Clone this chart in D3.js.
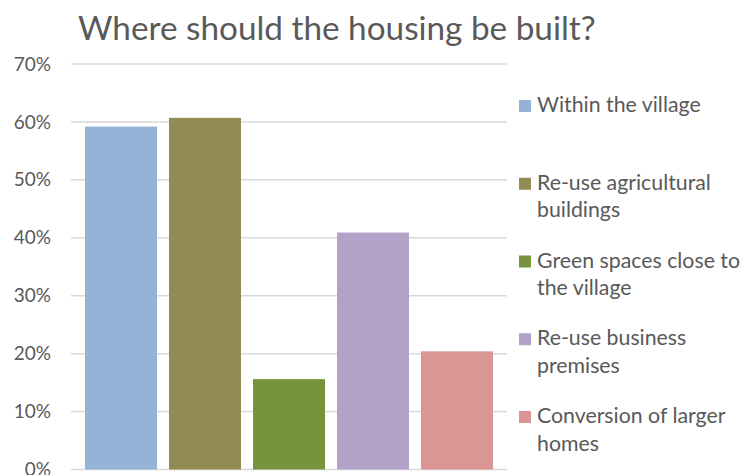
<!DOCTYPE html>
<html><head><meta charset="utf-8">
<script src="https://cdn.jsdelivr.net/npm/d3@7"></script>
<style>
html,body{margin:0;padding:0;background:#fff;overflow:hidden}
text{font-family:Lato,"Open Sans",sans-serif;fill:#595959}
</style></head>
<body><svg id="c" width="743" height="475"></svg>
<script>
const title = "Where should the housing be built?";
const categories = ["Within the village","Re-use agricultural buildings","Green spaces close to the village","Re-use business premises","Conversion of larger homes"];
const legendLines = [["Within the village"],["Re-use agricultural","buildings"],["Green spaces close to","the village"],["Re-use business","premises"],["Conversion of larger","homes"]];
const values = [0.592, 0.607, 0.156, 0.409, 0.204];
const colors = ["#95b3d7","#948a54","#77933c","#b3a2c7","#d99694"];
const yTicks = [0,0.1,0.2,0.3,0.4,0.5,0.6,0.7];

const svg = d3.select("#c");
const x = d3.scaleBand().domain(categories).range([71,507]).paddingInner(0.143).paddingOuter(0.167);
const y = d3.scaleLinear().domain([0,0.7]).range([469.5,64]);

svg.append("text").attr("x",78).attr("y",40).attr("font-size",33.3).attr("font-weight",400).attr("fill","#5a5a5a").text(title);

const g = svg.append("g");
g.selectAll("line.grid").data(yTicks).join("line")
  .attr("x1",71).attr("x2",507).attr("y1",d=>y(d)).attr("y2",d=>y(d))
  .attr("stroke","#d9d9d9").attr("stroke-width",1.5);

const yAxis = d3.axisLeft(y).tickValues(yTicks).tickFormat(d3.format(".0%")).tickSize(0).tickPadding(0);
const ya = svg.append("g").attr("transform","translate(51,0)").call(yAxis);
ya.select(".domain").remove();
ya.selectAll("text").attr("font-size",19).attr("fill","#595959").style("font-family","Lato");

svg.selectAll("rect.bar").data(values).join("rect")
  .attr("x",(d,i)=>x(categories[i])).attr("width",x.bandwidth())
  .attr("y",d=>y(d)).attr("height",d=>y(0)-y(d))
  .attr("fill",(d,i)=>colors[i]);

const leg = svg.append("g");
const ly = d3.scaleLinear().domain([0,4]).range([112,423]);
legendLines.forEach((lines,i)=>{
  const b = ly(i);
  leg.append("rect").attr("x",519).attr("y",b-12).attr("width",12).attr("height",12).attr("fill",colors[i]);
  lines.forEach((t,j)=>{
    leg.append("text").attr("x",537).attr("y",b+j*27.5).attr("font-size",21.3).text(t);
  });
});
</script></body></html>
